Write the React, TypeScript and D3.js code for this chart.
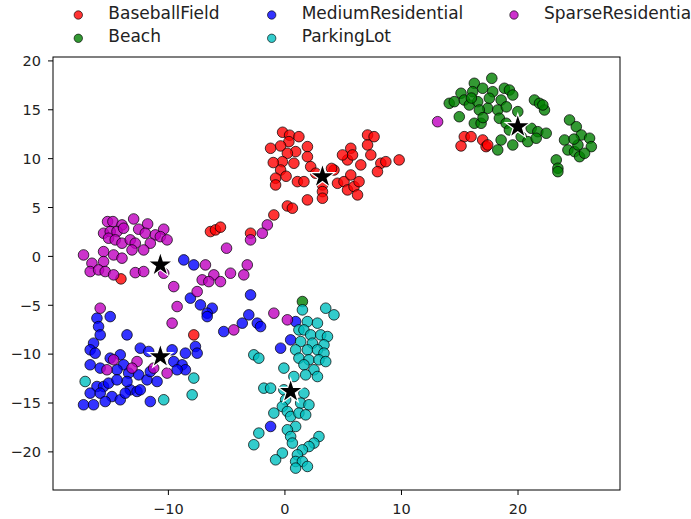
import React from "react";
import * as d3 from "d3";

const categories = ["BaseballField", "Beach", "MediumResidential", "ParkingLot", "SparseResidential"];
const colors = ["#ff0000", "#008000", "#0000ff", "#00bfbf", "#bf00bf"];

const baseballField: [number, number][] = [
  [-0.2, 12.7], [0.4, 12.4], [1.2, 12.25], [0.34, 11.74], [-0.37, 11.3], [-1.23, 11.06], [0.92, 10.72],
  [0.21, 10.55], [1.93, 11.23], [1.93, 10.2], [-0.22, 9.69], [0.77, 9.53], [-0.37, 8.84], [-0.8, 8.0],
  [-0.8, 7.31], [1.07, 7.65], [1.63, 7.65], [2.21, 9.18], [2.64, 8.51], [3.22, 7.31], [3.22, 6.63],
  [3.22, 5.95], [1.93, 5.78], [0.21, 5.16], [0.64, 4.93], [-0.95, 4.24], [4.21, 8.84], [4.51, 7.48],
  [5.07, 7.65], [5.37, 6.8], [5.93, 7.14], [6.36, 7.65], [5.37, 9.87], [5.65, 11.06], [5.8, 10.38],
  [4.94, 10.38], [6.51, 9.36], [7.09, 12.42], [7.65, 12.25], [7.09, 11.4], [7.37, 10.38], [8.23, 9.53],
  [8.66, 9.69], [7.94, 8.67], [9.8, 9.87], [6.23, 6.29], [5.65, 8.33], [-2.95, 2.37], [-6.39, 2.54],
  [-5.96, 2.71], [-5.53, 2.99], [-14.07, -2.3], [-7.82, -8.03], [15.39, 12.25], [15.97, 12.25],
  [15.11, 11.3], [16.97, 11.91], [17.26, 11.23], [17.4, 11.4], [0.1, 8.2], [-1.0, 9.6], [4.0, 9.0],
];

const beach: [number, number][] = [
  [17.75, 18.22], [16.25, 17.71], [16.97, 17.2], [15.11, 16.69], [16.11, 16.85], [17.83, 16.85],
  [18.83, 17.2], [19.26, 17.02], [19.55, 16.51], [14.1, 15.66], [14.53, 15.83], [15.39, 16.0],
  [15.82, 15.49], [16.54, 15.83], [17.54, 16.18], [18.55, 16.0], [17.4, 15.15], [16.68, 14.98],
  [18.26, 14.98], [14.96, 14.29], [16.25, 13.62], [16.83, 13.62], [18.4, 14.13], [19.98, 14.81],
  [21.41, 16.0], [21.84, 15.66], [22.27, 14.98], [22.13, 15.49], [18.98, 13.62], [19.26, 12.93],
  [20.27, 12.25], [20.84, 11.74], [21.13, 13.11], [21.7, 12.76], [22.42, 12.6], [21.56, 12.09],
  [18.55, 11.91], [19.55, 11.4], [18.26, 10.89], [24.42, 13.96], [25.0, 13.27], [25.43, 12.42],
  [23.99, 11.91], [26.14, 12.09], [26.29, 11.23], [24.28, 10.89], [24.85, 10.72], [25.28, 10.2],
  [25.71, 10.55], [25.14, 11.4], [23.28, 9.87], [23.42, 9.02], [23.42, 8.67], [1.5, -4.62],
  [17.0, 14.2], [19.0, 15.3], [24.8, 12.0], [16.0, 16.2],
];

const mediumResidential: [number, number][] = [
  [-8.68, -0.36], [-7.82, -0.87], [-8.11, -4.27], [-7.25, -4.96], [-6.24, -5.3], [-6.67, -5.81],
  [-6.67, -6.16], [-5.25, -7.69], [-3.66, -6.83], [-3.1, -5.98], [-2.95, -3.94], [-2.37, -6.83],
  [-2.09, -7.18], [0.49, -8.54], [-0.37, -9.39], [0.92, -6.67], [-1.23, -17.4], [-16.13, -6.32],
  [-14.99, -6.16], [-15.99, -7.18], [-15.85, -8.03], [-13.55, -8.03], [-16.42, -8.88], [-16.71, -9.56],
  [-16.28, -9.9], [-12.41, -9.39], [-11.69, -9.73], [-9.68, -9.56], [-8.54, -9.9], [-7.68, -9.22],
  [-7.53, -9.9], [-16.71, -11.09], [-15.85, -11.43], [-14.99, -10.41], [-14.13, -10.07], [-13.84, -11.09],
  [-14.41, -11.6], [-13.41, -11.94], [-12.55, -12.12], [-11.83, -12.63], [-10.97, -12.8], [-11.55, -11.78],
  [-9.54, -10.76], [-8.82, -11.09], [-8.54, -11.6], [-9.25, -11.6], [-16.13, -13.31], [-15.56, -13.31],
  [-15.13, -12.97], [-16.71, -13.99], [-15.85, -13.99], [-14.84, -14.34], [-14.13, -14.67], [-13.27, -13.65],
  [-12.69, -13.82], [-12.41, -13.65], [-17.28, -15.18], [-16.42, -15.18], [-15.42, -14.85], [-13.7, -13.99],
  [-11.55, -14.85], [-13.55, -12.8], [-14.41, -12.63],
];

const parkingLot: [number, number][] = [
  [1.5, -5.47], [3.5, -5.3], [4.21, -5.98], [1.93, -6.67], [2.79, -6.83], [1.2, -7.52], [1.63, -7.52],
  [2.21, -8.03], [3.07, -8.03], [3.65, -8.2], [1.35, -8.71], [2.36, -8.88], [3.35, -9.05], [0.92, -9.56],
  [1.93, -9.56], [2.79, -9.56], [3.35, -9.9], [1.2, -10.41], [2.06, -10.58], [2.92, -10.58], [3.5, -10.76],
  [1.63, -11.09], [2.49, -11.6], [2.79, -12.29], [1.78, -12.12], [-0.09, -11.43], [0.77, -12.29],
  [-2.67, -10.07], [-2.24, -10.41], [-1.81, -13.48], [-1.23, -13.48], [-0.09, -13.65], [1.63, -13.99],
  [0.06, -14.67], [1.35, -15.01], [2.06, -15.18], [-0.22, -15.36], [0.21, -15.87], [-0.95, -16.03],
  [0.49, -16.38], [1.2, -16.03], [1.78, -16.21], [0.92, -17.4], [0.21, -17.74], [0.49, -18.43],
  [0.64, -19.1], [-2.24, -18.08], [-2.67, -19.27], [2.92, -18.43], [2.49, -19.1], [2.06, -19.45],
  [1.5, -19.79], [1.07, -20.3], [-0.22, -20.12], [-0.8, -20.81], [0.92, -20.98], [1.5, -20.98],
  [1.93, -21.49], [0.92, -21.66], [-17.14, -12.8], [-10.4, -14.67], [-7.82, -12.45], [-7.96, -14.16],
];

const sparseResidential: [number, number][] = [
  [-15.22, 3.56], [-14.76, 3.56], [-13.98, 3.22], [-12.98, 3.83], [-11.78, 3.32], [-10.4, 2.78],
  [-15.56, 2.37], [-14.99, 2.54], [-14.41, 2.54], [-13.84, 2.88], [-12.55, 2.78], [-11.98, 2.37],
  [-11.12, 2.2], [-10.69, 2.02], [-10.11, 1.69], [-15.13, 1.86], [-14.56, 1.69], [-13.98, 1.35],
  [-13.27, 1.69], [-12.84, 1.35], [-11.55, 1.35], [-12.12, 0.66], [-17.28, 0.15], [-16.56, -0.7],
  [-15.56, 0.49], [-15.56, -0.53], [-14.7, 0.15], [-13.98, -0.18], [-13.12, 0.66], [-16.71, -1.55],
  [-15.99, -1.38], [-15.42, -1.55], [-14.7, -1.89], [-12.84, -1.66], [-12.12, -1.55], [-10.4, -1.72],
  [-9.54, -3.09], [-9.25, -5.13], [-15.85, -5.3], [-6.82, -0.87], [-6.1, -1.89], [-7.1, -2.4],
  [-6.53, -2.58], [-5.53, -2.58], [-4.67, -1.72], [-3.53, -1.89], [-3.23, -0.87], [-7.53, -3.6],
  [-5.01, 0.84], [-1.51, 3.22], [-1.94, 2.37], [-2.95, 1.69], [-0.95, -5.81], [0.21, -6.49],
  [-4.39, -7.52], [-9.68, -6.83], [-14.7, -10.58], [-15.27, -11.6], [-12.69, -10.76], [-13.12, -11.43],
  [-11.26, -11.43], [-10.11, -11.94], [13.1, 13.78],
];

const centroids: [number, number][] = [
  [3.22, 8.16], [19.98, 13.27], [-10.69, -10.25], [0.49, -13.82], [-10.69, -0.87],
];

const xTicks = [-10, 0, 10, 20];
const yTicks = [-20, -15, -10, -5, 0, 5, 10, 15, 20];

const series = [baseballField, beach, mediumResidential, parkingLot, sparseResidential];

export default function App() {
  const W = 691, H = 519;
  const left = 53, right = 620, top = 57, bottom = 490;
  const x = d3.scaleLinear().domain([-19.9, 28.75]).range([left, right]);
  const y = d3.scaleLinear().domain([-23.9, 20.4]).range([bottom, top]);
  const star = d3.symbol().type(d3.symbolStar).size(190)() as string;
  const font = "DejaVu Sans, sans-serif";

  const legendPos = [
    [78.3, 15], [78.3, 38.3], [271.7, 15], [271.7, 38.3], [514, 15],
  ];

  return (
    <svg width={W} height={H} style={{ position: "absolute", left: 0, top: 0, background: "#fff" }}>
      <rect x={0} y={0} width={W} height={H} fill="#fff" />
      {categories.map((c, i) => (
        <g key={c}>
          <circle cx={legendPos[i][0]} cy={legendPos[i][1]} r={4.2} fill={colors[i]} fillOpacity={0.8}
            stroke="#000" strokeOpacity={0.8} strokeWidth={0.8} />
          <text x={legendPos[i][0] + 30} y={legendPos[i][1] + 3.5} fontFamily={font} fontSize={17} fill="#222">{c}</text>
        </g>
      ))}
      {series.map((pts, i) => (
        <g key={i}>
          {pts.map((p, j) => (
            <circle key={j} cx={x(p[0])} cy={y(p[1])} r={5.3} fill={colors[i]} fillOpacity={0.8}
              stroke="#000" strokeOpacity={0.8} strokeWidth={0.9} />
          ))}
        </g>
      ))}
      {centroids.map((p, i) => (
        <path key={i} d={star} transform={`translate(${x(p[0])},${y(p[1])})`} fill="#000" stroke="#fff" strokeWidth={1.2} />
      ))}
      <rect x={left} y={top} width={right - left} height={bottom - top} fill="none" stroke="#000" strokeWidth={1} />
      {xTicks.map((t) => (
        <g key={t} transform={`translate(${x(t)},${bottom})`}>
          <line y1={0} y2={5} stroke="#000" />
          <text y={23.5} textAnchor="middle" fontFamily={font} fontSize={14.5} fill="#222">{t < 0 ? `\u2212${-t}` : t}</text>
        </g>
      ))}
      {yTicks.map((t) => (
        <g key={t} transform={`translate(${left},${y(t)})`}>
          <line x1={0} x2={-5} stroke="#000" />
          <text x={-12} dy="0.36em" textAnchor="end" fontFamily={font} fontSize={14.5} fill="#222">{t < 0 ? `\u2212${-t}` : t}</text>
        </g>
      ))}
    </svg>
  );
}
